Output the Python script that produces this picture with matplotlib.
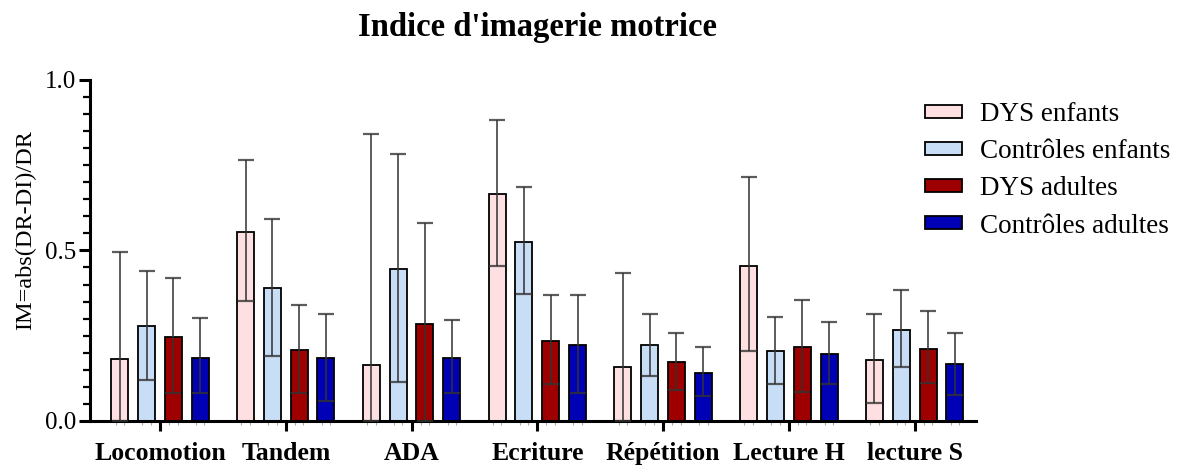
import matplotlib
matplotlib.use("Agg")
import matplotlib.pyplot as plt
import numpy as np
from matplotlib.ticker import MultipleLocator, FixedLocator

categories = ["Locomotion", "Tandem", "ADA", "Ecriture", "Répétition", "Lecture H", "lecture S"]
series = ["DYS enfants", "Contrôles enfants", "DYS adultes", "Contrôles adultes"]

dys_enfants = [0.181, 0.555, 0.164, 0.665, 0.157, 0.455, 0.179]
dys_enfants_hi = [0.495, 0.765, 0.842, 0.883, 0.433, 0.715, 0.314]
dys_enfants_lo = [0.0, 0.353, 0.0, 0.455, 0.0, 0.206, 0.054]

ctrl_enfants = [0.279, 0.389, 0.445, 0.526, 0.223, 0.206, 0.267]
ctrl_enfants_hi = [0.440, 0.591, 0.782, 0.687, 0.314, 0.306, 0.384]
ctrl_enfants_lo = [0.120, 0.191, 0.113, 0.372, 0.133, 0.108, 0.157]

dys_adultes = [0.247, 0.208, 0.284, 0.235, 0.173, 0.218, 0.212]
dys_adultes_hi = [0.420, 0.340, 0.580, 0.368, 0.257, 0.355, 0.323]
dys_adultes_lo = [0.081, 0.081, 0.0, 0.109, 0.090, 0.084, 0.110]

ctrl_adultes = [0.186, 0.186, 0.186, 0.223, 0.140, 0.196, 0.167]
ctrl_adultes_hi = [0.301, 0.313, 0.296, 0.370, 0.216, 0.289, 0.259]
ctrl_adultes_lo = [0.081, 0.059, 0.081, 0.081, 0.074, 0.109, 0.076]

colors = ["#FFE0E2", "#C8DDF6", "#9E0000", "#0000B4"]

means = [dys_enfants, ctrl_enfants, dys_adultes, ctrl_adultes]
his = [dys_enfants_hi, ctrl_enfants_hi, dys_adultes_hi, ctrl_adultes_hi]
los = [dys_enfants_lo, ctrl_enfants_lo, dys_adultes_lo, ctrl_adultes_lo]

plt.rcParams['font.family'] = ['Liberation Serif', 'DejaVu Serif']

fig = plt.figure(figsize=(11.84, 4.66), dpi=100)
ax = fig.add_axes([0.076, 0.0966, 0.748, 0.732])

x = np.arange(len(categories))
width = 0.135
offsets = [-1.5, -0.5, 0.5, 1.5]
step = 0.213
minor_pos = []
for i in range(4):
    m = np.array(means[i])
    hi = np.array(his[i]) - m
    lo = m - np.array(los[i])
    xp = x + offsets[i] * step
    ax.bar(xp, m, width, color=colors[i], edgecolor="black", linewidth=1.3,
           label=series[i], zorder=2)
    ax.errorbar(xp, m, yerr=[lo, hi], fmt="none", ecolor="#333333", elinewidth=1.4,
                capsize=6, capthick=1.6, alpha=0.8, zorder=3)
    minor_pos += list(xp - width / 4) + list(xp + width / 4)

ax.set_xlim(-0.557, 6.485)
ax.set_ylim(0, 1.0)
ax.spines['top'].set_visible(False)
ax.spines['right'].set_visible(False)
ax.spines['left'].set_linewidth(2.2)
ax.spines['bottom'].set_linewidth(2.2)
ax.spines['left'].set_bounds(0, 1.0)

ax.set_xticks(x)
ax.set_xticklabels(categories, fontsize=18.5, fontweight='bold')
ax.xaxis.set_minor_locator(FixedLocator(minor_pos))
ax.tick_params(axis='x', which='major', length=7, width=2.2, pad=8)
ax.tick_params(axis='x', which='minor', length=3, width=0.8, color='#aaaaaa')

ax.yaxis.set_minor_locator(MultipleLocator(0.05))
ax.set_yticks([0.0, 0.5, 1.0])
ax.set_yticklabels(["0.0", "0.5", "1.0"], fontsize=18)
ax.tick_params(axis='y', which='major', length=8, width=2.2, pad=2)
ax.tick_params(axis='y', which='minor', length=5, width=1.6)

ax.set_ylabel("IM=abs(DR-DI)/DR", fontsize=17.5, va='center')
ax.yaxis.set_label_coords(-0.073, 0.56)
fig.text(0.454, 0.942, "Indice d'imagerie motrice", fontsize=23.5, fontweight='bold',
         ha='center', va='center')

leg = ax.legend(loc='upper left', bbox_to_anchor=(0.781, 0.781),
                bbox_transform=fig.transFigure, frameon=False,
                fontsize=19.5, handlelength=1.37, handleheight=0.37, labelspacing=0.45,
                handletextpad=0.66, borderpad=0, borderaxespad=0)
for p in leg.get_patches():
    p.set_linewidth(1.3)

fig.savefig("out.png", dpi=100)
